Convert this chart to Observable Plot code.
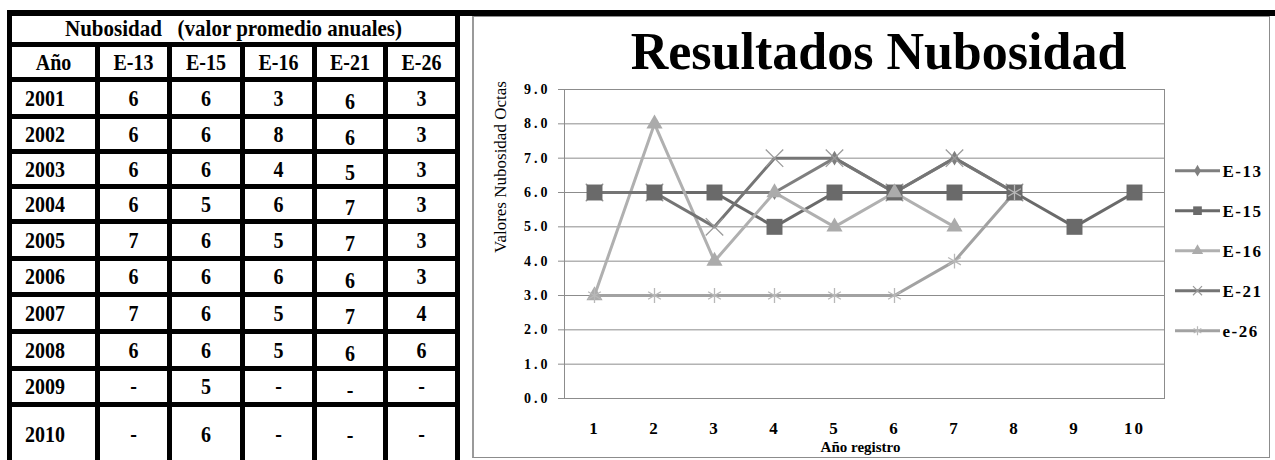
<!DOCTYPE html>
<html><head><meta charset="utf-8">
<script src="https://cdn.jsdelivr.net/npm/d3@7"></script>
<script src="https://cdn.jsdelivr.net/npm/@observablehq/plot@0.6"></script>
<style>
html,body{margin:0;padding:0;background:#fff;width:1275px;height:460px;overflow:hidden;position:relative;font-family:"Liberation Serif","Times New Roman",serif;}
#topbar{position:absolute;left:7px;top:10px;width:1268px;height:6px;background:#000;}
#table{position:absolute;left:7px;top:10px;width:453px;height:470px;background:#000;display:grid;box-sizing:border-box;padding:6px 5px 0 5px;column-gap:5px;row-gap:5px;
 grid-template-columns:83px 67px 68px 67px 66px 67px;
 grid-template-rows:26px 30px 32px 30px 30px 30px 32px 31px 32px 32px 31px 63px;overflow:hidden;}
#table div{background:#fff;color:#000;font-weight:bold;font-size:20px;display:flex;align-items:center;justify-content:center;box-sizing:border-box;}
#table div span{display:inline-block;transform:scaleY(1.17);}
#table div.title{grid-column:1 / span 6;white-space:pre;font-size:21px;}
#table div.title span{transform:scaleY(1.05);}
#table div.year{justify-content:flex-start;padding-left:13px;}
#table div.low{padding-top:7px;}
#table div.last{padding-bottom:8px;}
#table div.last.low{padding-top:0;padding-bottom:6px;}
#chartbox{position:absolute;left:472px;top:16px;width:798px;height:442px;box-sizing:border-box;border:1px solid #8c8c8c;border-left:2px solid #9a9a9a;}
#chart{position:absolute;left:473px;top:17px;}
#legend{position:absolute;left:1173px;top:150px;}
#chart svg [aria-label="y-axis tick label"] text{letter-spacing:3px;}
#chart svg [aria-label="x-axis tick label"] text{letter-spacing:2px;}
</style>
</head><body>
<div id="topbar"></div>
<div id="table"></div>
<div id="chartbox"></div>
<div id="chart"></div>
<div id="legend"></div>
<script>
// ---- table data ----
const tableTitle = "Nubosidad   (valor promedio anuales)";
const tableHeaders = ["Año", "E-13", "E-15", "E-16", "E-21", "E-26"];
const years = [2001, 2002, 2003, 2004, 2005, 2006, 2007, 2008, 2009, 2010];
const colE13 = [6, 6, 6, 6, 7, 6, 7, 6, null, null];
const colE15 = [6, 6, 6, 5, 6, 6, 6, 6, 5, 6];
const colE16 = [3, 8, 4, 6, 5, 6, 5, 5, null, null];
const colE21 = [6, 6, 5, 7, 7, 6, 7, 6, null, null];
const colE26 = [3, 3, 3, 3, 3, 3, 4, 6, null, null];

// ---- chart data ----
const chartTitle = "Resultados Nubosidad";
const xLabel = "Año registro";
const yLabel = "Valores Nubosidad Octas";
const registro = [1, 2, 3, 4, 5, 6, 7, 8, 9, 10];
const yTicks = [0, 1, 2, 3, 4, 5, 6, 7, 8, 9];
const seriesNames = ["E-13", "E-15", "E-16", "E-21", "e-26"];
const lineE13 = [6, 6, 6, 6, 7, 6, 7, 6];
const lineE15 = [6, 6, 6, 5, 6, 6, 6, 6, 5, 6];
const lineE16 = [3, 8, 4, 6, 5, 6, 5];
const lineE21 = [6, 6, 5, 7, 7, 6, 7, 6];
const lineE26 = [3, 3, 3, 3, 3, 3, 4, 6];

// ---- styles ----
const styles = {
  "E-13": {color: "#7f7f7f", mark: "#7f7f7f", symbol: "diamond", r: 4.5, filled: true, lsym: d3.symbolDiamond, lsize: 40},
  "E-15": {color: "#6a6a6a", mark: "#6a6a6a", symbol: "square", r: 9, filled: true, lsym: d3.symbolSquare, lsize: 75},
  "E-16": {color: "#b0b0b0", mark: "#ababab", symbol: "triangle", r: 6, filled: true, lsym: d3.symbolTriangle, lsize: 55},
  "E-21": {color: "#757575", mark: "#9a9a9a", symbol: "times", r: 8, filled: false, lsym: d3.symbolTimes, lsize: 55},
  "e-26": {color: "#a2a2a2", mark: "#b8b8b8", symbol: "asterisk", r: 7, filled: false, lsym: d3.symbolAsterisk, lsize: 55}
};
const markerOrder = ["E-13", "E-21", "E-15", "E-16", "e-26"];

// ---- build table ----
const tbl = document.getElementById("table");
function cell(text, cls) {
  const d = document.createElement("div");
  d.className = cls;
  const s = document.createElement("span");
  s.textContent = text;
  d.appendChild(s);
  tbl.appendChild(d);
}
cell(tableTitle, "title");
tableHeaders.forEach(h => cell(h, "hdr"));
const cols = [colE13, colE15, colE16, colE21, colE26];
years.forEach((yr, i) => {
  const last = i === years.length - 1 ? " last" : "";
  cell(String(yr), "year" + last);
  cols.forEach((col, j) => cell(col[i] == null ? "-" : String(col[i]), (j === 3 ? "num low" : "num") + last));
});

// ---- build chart ----
const seriesValues = [lineE13, lineE15, lineE16, lineE21, lineE26];
const rows = [];
seriesNames.forEach((name, k) => seriesValues[k].forEach((v, i) => rows.push({serie: name, x: registro[i], y: v})));

const marks = [
  Plot.gridY(yTicks, {stroke: "#8c8c8c", strokeOpacity: 1}),
  Plot.frame({stroke: "#8c8c8c"}),
  Plot.axisY(yTicks, {tickSize: 6, tickPadding: 8, stroke: "#8c8c8c", fill: "#000", fontSize: 14, fontWeight: "bold", tickFormat: d => d.toFixed(1), label: null}),
  Plot.axisX(registro, {tickSize: 0, tickPadding: 23, fill: "#000", fontSize: 17, fontWeight: "bold", label: null}),
  Plot.text([chartTitle], {frameAnchor: "top", dx: 14, dy: -21, lineAnchor: "bottom", fontSize: 52, fontWeight: "bold", fill: "#000", text: d => d}),
  Plot.text([xLabel], {frameAnchor: "bottom", dx: -4, dy: 53, lineAnchor: "bottom", fontSize: 15, fontWeight: "bold", fill: "#000", text: d => d}),
  Plot.text([yLabel], {frameAnchor: "left", dx: -59, dy: 9, rotate: -90, lineAnchor: "bottom", fontSize: 17, fill: "#000", text: d => d})
];
seriesNames.forEach(name => {
  const st = styles[name];
  const data = rows.filter(d => d.serie === name);
  marks.push(Plot.line(data, {x: "x", y: "y", stroke: st.color, strokeWidth: 3}));
});
markerOrder.forEach(name => {
  const st = styles[name];
  const data = rows.filter(d => d.serie === name);
  marks.push(Plot.dot(data, st.filled
    ? {x: "x", y: "y", symbol: st.symbol, r: st.r, fill: st.mark, stroke: "none"}
    : {x: "x", y: "y", symbol: st.symbol, r: st.r, stroke: st.mark, strokeWidth: 1.3, fill: "none"}));
});

const chart = Plot.plot({
  width: 797, height: 441,
  marginLeft: 91, marginRight: 106, marginTop: 72, marginBottom: 60,
  style: {fontFamily: '"Liberation Serif", "Times New Roman", serif', color: "#000", background: "transparent"},
  x: {type: "point", domain: registro, padding: 0.5, label: null},
  y: {domain: [0, 9], label: null},
  marks
});
document.getElementById("chart").appendChild(chart);

// ---- legend ----
const lg = d3.select("#legend").append("svg").attr("width", 102).attr("height", 200)
  .style("font-family", '"Liberation Serif", "Times New Roman", serif');
seriesNames.forEach((name, i) => {
  const st = styles[name];
  const y = 20.7 + i * 40;
  const g = lg.append("g");
  g.append("line").attr("x1", 2).attr("x2", 47).attr("y1", y).attr("y2", y).attr("stroke", st.color).attr("stroke-width", 3);
  const p = g.append("path").attr("d", d3.symbol().type(st.lsym).size(st.lsize)()).attr("transform", `translate(24.5,${y})`);
  if (st.filled) p.attr("fill", st.mark); else p.attr("fill", "none").attr("stroke", st.mark).attr("stroke-width", 1.2);
  g.append("text").attr("x", 49.5).attr("y", y + 6).attr("font-size", 17).attr("font-weight", "bold").attr("letter-spacing", "1.5px").text(name);
});
</script>
</body></html>
